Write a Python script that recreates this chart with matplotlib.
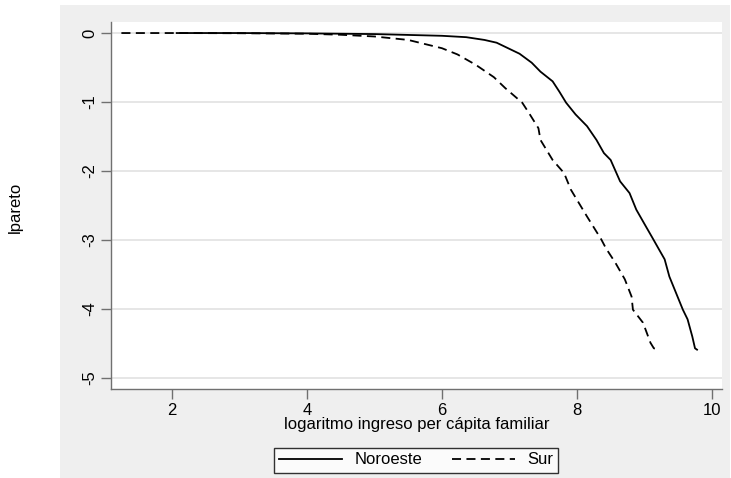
import numpy as np
import matplotlib
matplotlib.use("Agg")
import matplotlib.pyplot as plt
from matplotlib.patches import Rectangle

plt.rcParams['font.family'] = ['Liberation Sans', 'DejaVu Sans']

# Datos (lpareto vs log ingreso per capita familiar)
x_noroeste = [2.07, 3.0, 4.0, 5.0, 6.0, 6.36, 6.63, 6.81, 6.98, 7.15, 7.33, 7.46,
              7.64, 7.74, 7.84, 7.98, 8.15, 8.29, 8.40, 8.50, 8.64, 8.78, 8.88,
              9.02, 9.12, 9.23, 9.30, 9.37, 9.47, 9.57, 9.64, 9.71, 9.75, 9.78]
y_noroeste = [0.0, 0.0, -0.005, -0.015, -0.04, -0.06, -0.10, -0.14, -0.22, -0.30,
              -0.43, -0.56, -0.70, -0.85, -1.01, -1.18, -1.35, -1.55, -1.74, -1.84,
              -2.15, -2.32, -2.56, -2.80, -2.97, -3.16, -3.28, -3.53, -3.77, -4.01,
              -4.15, -4.40, -4.57, -4.59]

x_sur = [1.25, 2.0, 3.0, 4.0, 4.5, 5.0, 5.5, 6.0, 6.23, 6.5, 6.77, 6.94, 7.19,
         7.29, 7.43, 7.46, 7.64, 7.81, 7.91, 8.15, 8.36, 8.43, 8.57, 8.71, 8.81,
         8.83, 8.98, 9.09, 9.14, 9.21]
y_sur = [0.0, 0.0, -0.003, -0.01, -0.025, -0.05, -0.10, -0.22, -0.31, -0.46,
         -0.64, -0.80, -1.01, -1.16, -1.38, -1.55, -1.84, -2.03, -2.27, -2.66,
         -2.99, -3.12, -3.33, -3.57, -3.82, -4.01, -4.20, -4.49, -4.57, -4.59]

xticks = [2, 4, 6, 8, 10]
yticks = [0, -1, -2, -3, -4, -5]

W, H = 731, 478
fig = plt.figure(figsize=(W / 100, H / 100), dpi=100, facecolor='white')

# fondo gris tipo Stata
fig.patches.append(Rectangle((60 / W, 0), 670 / W, 473 / H, transform=fig.transFigure,
                             facecolor='#efefef', edgecolor='none', zorder=-10))

ax = fig.add_axes([111 / W, (H - 389) / H, 611 / W, 367 / H])
ax.set_facecolor('white')

ax.plot(x_noroeste, y_noroeste, color='black', lw=1.3, label='Noroeste')
ax.plot(x_sur, y_sur, color='black', lw=1.3, ls=(0, (5, 3)), label='Sur')

ax.set_xlim(1.096, 10.15)
ax.set_ylim(-5.16, 0.16)
ax.set_xticks(xticks)
ax.set_yticks(yticks)
ax.set_yticklabels([str(v) for v in yticks], rotation=90, va='center')

ax.grid(axis='y', color='#e6e6e6', lw=1.4)
ax.set_axisbelow(True)
for s in ['top', 'right']:
    ax.spines[s].set_visible(False)
for s in ['left', 'bottom']:
    ax.spines[s].set_color('#707070')
    ax.spines[s].set_linewidth(1.0)
ax.tick_params(direction='out', length=7, width=1.0, color='#707070',
               labelsize=12, pad=3)

ax.set_xlabel('logaritmo ingreso per cápita familiar', fontsize=12, labelpad=-1)
fig.text(15 / W, 1 - 207 / H, 'lpareto', rotation=90, fontsize=12,
         ha='center', va='center')

leg = fig.legend(loc='center', bbox_to_anchor=(416 / W, 1 - 460 / H), ncol=2,
                 fontsize=12, frameon=True, fancybox=False, handlelength=3.8,
                 columnspacing=1.8, handletextpad=0.7, borderpad=0.3)
leg.get_frame().set_edgecolor('black')
leg.get_frame().set_linewidth(1.0)

fig.savefig('out.png', dpi=100, facecolor='white')
